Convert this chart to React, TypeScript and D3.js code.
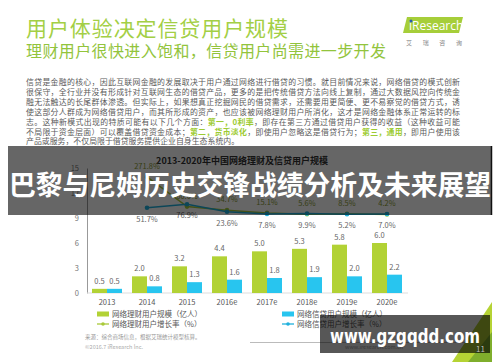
import React, { useEffect, useRef } from "react";
import * as d3 from "d3";

const years = ["2013", "2014", "2015", "2016e", "2017e", "2018e", "2019e", "2020e"];
const wealthUsers = [0.5, 2.0, 3.2, 4.4, 5.0, 5.3, 5.8, 6.0];
const creditUsers = [0.5, 0.8, 1.3, 1.6, 1.8, 1.9, 2.0, 2.2];
const wealthGrowth: (number | null)[] = [null, 271.8, 60.0, 34.7, 15.1, 5.6, 8.5, 4.2];
const creditGrowth: (number | null)[] = [null, 51.7, 76.9, 23.6, 7.8, 9.9, 5.2, 7.0];
const yTicks = [0, 3, 6, 9, 12, 15];

const legendItems = [
  { label: "网络理财用户规模（亿人）", kind: "bar", color: "#b2d235" },
  { label: "网络理财用户增长率（%）", kind: "line", color: "#a9c938" },
  { label: "网络信贷用户规模（亿人）", kind: "bar", color: "#28c5ef" },
  { label: "网络信贷用户增长率（%）", kind: "line", color: "#1fb0dc" },
];

// body paragraph, [text, highlighted?]
const bodyLines: [string, boolean][][] = [
  [["信贷是金融的核心，因此互联网金融的发展取决于用户通过网络进行借贷的习惯。就目前情况来说，网络借贷的模式创新", false]],
  [["很保守，全行业并没有形成针对互联网生态的借贷产品，更多的是把传统借贷方法向线上复制，通过大数据风控向传统金", false]],
  [["融无法触达的长尾群体渗透。但实际上，如果想真正挖掘网民的借贷需求，还需要用更简便、更不易察觉的借贷方式，诱", false]],
  [["使这部分人群成为网络借贷用户，而其所形成的资产，也应该被网络理财用户所消化，这才是网络金融体系正常运转的标", false]],
  [["志。这种新模式出现的特质可能有以下几个方面：", false], ["第一，0利率", true], ["，即存在第三方通过借贷用户获得的收益（这种收益可能", false]],
  [["不局限于资金层面）可以覆盖借贷资金成本；", false], ["第二，货币淡化", true], ["，即使用户忽略这是借贷行为；", false], ["第三，通用", true], ["，即用户使用该", false]],
  [["产品或服务，不仅局限于借贷服务提供企业自身生态系统内。", false]],
];

const FONT = "'Noto Sans CJK SC', 'Noto Sans', sans-serif";

export default function App() {
  const svgRef = useRef<SVGSVGElement>(null);

  useEffect(() => {
    document.body.style.margin = "0";
    const svg = d3.select(svgRef.current);
    svg.selectAll("*").remove();
    svg.attr("width", 500).attr("height", 362).style("font-family", FONT);

    svg.append("rect").attr("width", 500).attr("height", 362).attr("fill", "#fff");

    // header
    svg.append("text").attr("x", 26).attr("y", 36).attr("font-size", 21)
      .attr("fill", "#a3cf45").attr("textLength", 262).text("用户体验决定信贷用户规模");
    svg.append("text").attr("x", 26).attr("y", 57).attr("font-size", 16)
      .attr("fill", "#92c43c").attr("textLength", 360).text("理财用户很快进入饱和，信贷用户尚需进一步开发");

    // logo
    svg.append("path").attr("d", "M407,17 L463,17 L459,33 L403,33 Z").attr("fill", "#a6ce39");
    svg.append("text").attr("x", 409).attr("y", 30).attr("font-size", 12).attr("fill", "#fff")
      .attr("font-family", "'Open Sans', sans-serif").text("iResearch");
    svg.append("circle").attr("cx", 411).attr("cy", 21).attr("r", 1.5).attr("fill", "#2a5caa");
    svg.append("text").attr("x", 406).attr("y", 45).attr("font-size", 6).attr("fill", "#888")
      .attr("textLength", 56).text("艾瑞咨询");

    // paragraph
    bodyLines.forEach((parts, i) => {
      const t = svg.append("text").attr("x", 26).attr("y", 85 + i * 9.9).attr("font-size", 7.9).attr("fill", "#5a5a5a");
      if (i < bodyLines.length - 1) t.attr("textLength", 434).attr("lengthAdjust", "spacing");
      parts.forEach(([s, hl]) => {
        t.append("tspan").attr("fill", hl ? "#9dcb32" : "#5a5a5a").attr("font-weight", hl ? "bold" : "normal").text(s);
      });
    });

    // chart
    const x = d3.scaleBand<string>().domain(years).range([87, 407]).paddingInner(0.25).paddingOuter(0.125);
    const y = d3.scaleLinear().domain([0, 15]).range([293, 168]);
    const y2 = d3.scaleLinear().domain([0, 300]).range([215, 173]);
    const bw = x.bandwidth() / 2;

    svg.append("text").attr("x", 242).attr("y", 164).attr("text-anchor", "middle").attr("font-size", 9)
      .attr("font-weight", "bold").attr("fill", "#333").text("2013-2020年中国网络理财及信贷用户规模");

    const axis = svg.append("g").attr("transform", "translate(87,0)")
      .call(d3.axisLeft(y).tickValues(yTicks).tickSize(0).tickPadding(8).tickFormat(d3.format("d")));
    axis.select(".domain").attr("stroke", "#999");
    axis.selectAll("text").attr("font-size", 7.5).attr("fill", "#777").style("font-family", FONT);

    svg.append("line").attr("x1", 87).attr("x2", 408).attr("y1", y(0)).attr("y2", y(0)).attr("stroke", "#ddd");

    const g = svg.append("g");
    g.selectAll(".wb").data(wealthUsers).enter().append("rect")
      .attr("x", (_, i) => x(years[i])!).attr("y", (d) => y(d)).attr("width", bw)
      .attr("height", (d) => y(0) - y(d)).attr("fill", "#b2d235");
    g.selectAll(".cb").data(creditUsers).enter().append("rect")
      .attr("x", (_, i) => x(years[i])! + bw).attr("y", (d) => y(d)).attr("width", bw)
      .attr("height", (d) => y(0) - y(d)).attr("fill", "#28c5ef");

    const labelStyle = (s: any) => s.attr("font-size", 7.5).attr("fill", "#666").attr("text-anchor", "middle");
    g.selectAll(".wl").data(wealthUsers).enter().append("text")
      .attr("x", (_, i) => x(years[i])! + bw / 2).attr("y", (d) => y(d) - 5).call(labelStyle).text((d) => d.toFixed(1));
    g.selectAll(".cl").data(creditUsers).enter().append("text")
      .attr("x", (_, i) => x(years[i])! + bw * 1.5).attr("y", (d) => y(d) - 5).call(labelStyle).text((d) => d.toFixed(1));

    g.selectAll(".xl").data(years).enter().append("text")
      .attr("x", (d) => x(d)! + bw).attr("y", 305).call(labelStyle).attr("fill", "#555").text((d) => d);

    // growth lines
    const cx = (i: number) => x(years[i])! + bw;
    const drawLine = (vals: (number | null)[], color: string, above: boolean) => {
      const pts = vals.map((v, i) => [i, v] as [number, number | null]).filter((p) => p[1] != null) as [number, number][];
      const line = d3.line<[number, number]>().x((p) => cx(p[0])).y((p) => y2(p[1]));
      g.append("path").attr("d", line(pts)).attr("fill", "none").attr("stroke", color).attr("stroke-width", 1.5);
      g.selectAll(null).data(pts).enter().append("circle")
        .attr("cx", (p) => cx(p[0])).attr("cy", (p) => y2(p[1])).attr("r", 2.3).attr("fill", color);
      g.selectAll(null).data(pts).enter().append("text")
        .attr("x", (p) => cx(p[0])).attr("y", (p) => y2(p[1]) + (above ? -8 : 14))
        .call(labelStyle).attr("fill", above ? "#8a9a30" : "#666").text((p) => p[1].toFixed(1) + "%");
    };
    drawLine(wealthGrowth, "#a9c938", true);
    drawLine(creditGrowth, "#1fb0dc", false);

    // legend
    legendItems.forEach((it, i) => {
      const lx = i < 2 ? 97 : 282;
      const ly = i % 2 === 0 ? 314 : 324;
      if (it.kind === "bar") {
        svg.append("rect").attr("x", lx).attr("y", ly - 2.5).attr("width", 12).attr("height", 5).attr("fill", it.color);
      } else {
        svg.append("line").attr("x1", lx).attr("x2", lx + 12).attr("y1", ly).attr("y2", ly).attr("stroke", it.color).attr("stroke-width", 1.3);
        svg.append("circle").attr("cx", lx + 6).attr("cy", ly).attr("r", 1.8).attr("fill", it.color);
      }
      svg.append("text").attr("x", lx + 15).attr("y", ly + 3).attr("font-size", 7.5).attr("fill", "#555").text(it.label);
    });

    svg.append("text").attr("x", 85).attr("y", 339).attr("font-size", 5.5).attr("fill", "#999")
      .text("来源：综合商场信息，根据艾瑞统计模型核算。");
    svg.append("text").attr("x", 85).attr("y", 349).attr("font-size", 5.5).attr("fill", "#aaa")
      .text("©2016.7 iResearch Inc.");
    svg.append("line").attr("x1", 250).attr("x2", 470).attr("y1", 342.5).attr("y2", 342.5).attr("stroke", "#bbb");
    svg.append("text").attr("x", 345).attr("y", 349).attr("font-size", 5.5).attr("fill", "#aaa").text("www.iresearch.com.cn");

    // corner decoration
    svg.append("path").attr("d", "M492,302 L492,362 L452,362 Z").attr("fill", "#b5d334");
    svg.append("path").attr("d", "M492,332 L492,362 L468,362 Z").attr("fill", "#7fae2c");

    // dark banner overlay
    svg.append("rect").attr("x", 8).attr("y", 146).attr("width", 484).attr("height", 69).attr("fill", "rgba(0,0,0,0.6)");
    svg.append("line").attr("x1", 491.5).attr("x2", 491.5).attr("y1", 146).attr("y2", 215).attr("stroke", "#111").attr("stroke-width", 1.5);
    svg.append("text").attr("x", 250).attr("y", 195).attr("text-anchor", "middle").attr("font-size", 27)
      .attr("font-weight", "bold").attr("fill", "#fff").attr("textLength", 482).attr("lengthAdjust", "spacingAndGlyphs")
      .text("巴黎与尼姆历史交锋战绩分析及未来展望");

    // watermark
    svg.append("rect").attr("x", 320).attr("y", 315).attr("width", 170).attr("height", 38).attr("fill", "rgba(0,0,0,0.66)");
    svg.append("text").attr("x", 330).attr("y", 343).attr("font-size", 19).attr("font-weight", "bold")
      .attr("font-family", "'DejaVu Sans', sans-serif").attr("fill", "#fff").attr("textLength", 150)
      .attr("lengthAdjust", "spacingAndGlyphs").text("www.gzgqdd.com");
    svg.append("text").attr("x", 476).attr("y", 352).attr("font-size", 8).attr("fill", "#bbb").text("11");
  }, []);

  return <svg ref={svgRef} style={{ display: "block" }}></svg>;
}
